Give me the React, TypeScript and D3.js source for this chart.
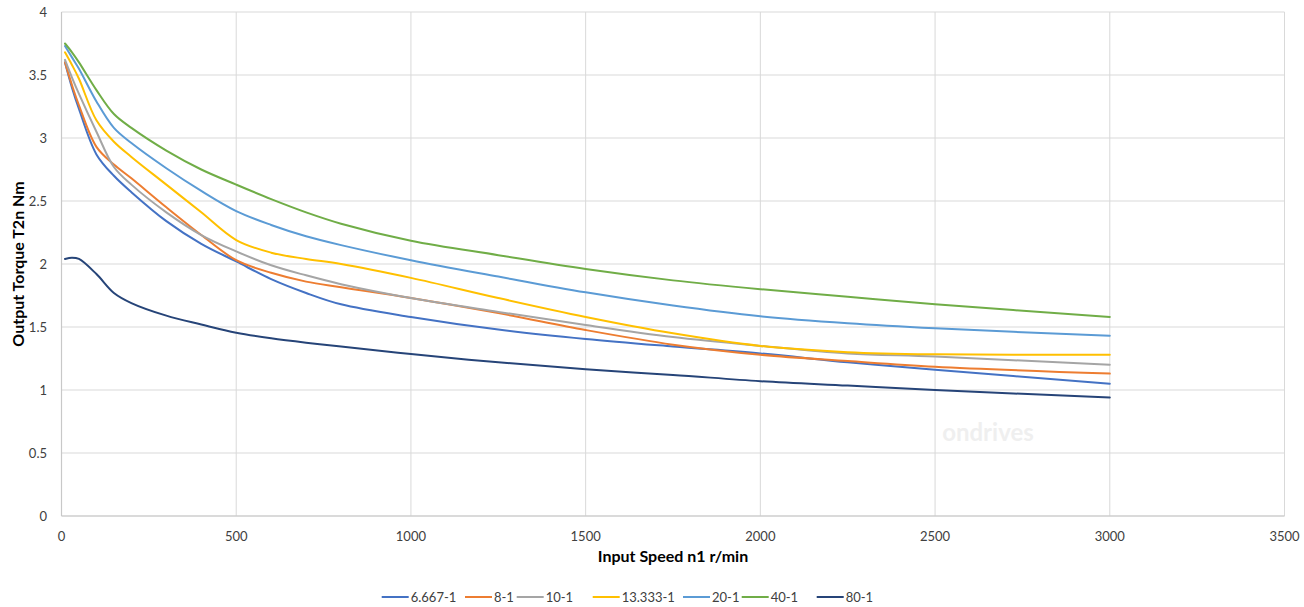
import React from "react";
import * as d3 from "d3";

// ---- data ----
const speeds = [10, 30, 50, 100, 150, 200, 300, 400, 500, 600, 700, 800, 1000, 1250, 1500, 1750, 2000, 2250, 2500, 3000];

const s6667 = [3.60, 3.40, 3.23, 2.87, 2.70, 2.57, 2.34, 2.16, 2.02, 1.88, 1.77, 1.68, 1.58, 1.48, 1.405, 1.345, 1.29, 1.22, 1.16, 1.05];
const s8 = [3.60, 3.42, 3.26, 2.93, 2.79, 2.68, 2.45, 2.23, 2.03, 1.93, 1.86, 1.815, 1.73, 1.61, 1.476, 1.36, 1.28, 1.23, 1.185, 1.13];
const s10 = [3.62, 3.48, 3.35, 3.05, 2.77, 2.63, 2.41, 2.23, 2.10, 1.99, 1.91, 1.84, 1.73, 1.62, 1.515, 1.42, 1.35, 1.29, 1.265, 1.20];
const s13333 = [3.68, 3.58, 3.47, 3.14, 2.97, 2.85, 2.63, 2.41, 2.19, 2.09, 2.04, 2.00, 1.89, 1.73, 1.58, 1.45, 1.35, 1.30, 1.283, 1.28];
const s20 = [3.73, 3.64, 3.55, 3.29, 3.08, 2.96, 2.76, 2.58, 2.42, 2.31, 2.22, 2.15, 2.03, 1.90, 1.775, 1.67, 1.585, 1.53, 1.49, 1.43];
const s40 = [3.75, 3.68, 3.60, 3.38, 3.19, 3.08, 2.90, 2.75, 2.63, 2.515, 2.41, 2.32, 2.185, 2.07, 1.96, 1.87, 1.80, 1.74, 1.68, 1.58];
const s80 = [2.04, 2.05, 2.04, 1.92, 1.77, 1.69, 1.59, 1.52, 1.455, 1.41, 1.375, 1.345, 1.285, 1.22, 1.164, 1.12, 1.07, 1.035, 1.00, 0.94];

const seriesNames = ["6.667-1", "8-1", "10-1", "13.333-1", "20-1", "40-1", "80-1"];
const seriesValues = [s6667, s8, s10, s13333, s20, s40, s80];
const seriesColors = ["#4472C4", "#ED7D31", "#A5A5A5", "#FFC000", "#5B9BD5", "#70AD47", "#264478"];

const xTicks = [0, 500, 1000, 1500, 2000, 2500, 3000, 3500];
const yTicks = [0, 0.5, 1, 1.5, 2, 2.5, 3, 3.5, 4];

const xTitle = "Input Speed n1 r/min";
const yTitle = "Output Torque T2n Nm";
const watermark = "ondrives";

// ---- layout ----
const W = 1304;
const H = 607;
const plot = { left: 61.5, right: 1284.5, top: 12, bottom: 516 };
const legendStarts = [381.7, 465, 516.7, 592.7, 683, 741.7, 816.7];
const FONT = "Lato, 'Open Sans', sans-serif";

export default function App() {
  const x = d3.scaleLinear().domain([0, 3500]).range([plot.left, plot.right]);
  const y = d3.scaleLinear().domain([0, 4]).range([plot.bottom, plot.top]);

  const line = d3
    .line<[number, number]>()
    .x((d) => x(d[0]))
    .y((d) => y(d[1]))
    .curve(d3.curveCatmullRom.alpha(0.5));

  return (
    <svg
      width={W}
      height={H}
      style={{ position: "fixed", left: 0, top: 0, display: "block", background: "#fff" }}
      fontFamily={FONT}
    >
      <rect x={0} y={0} width={W} height={H} fill="#fff" />
      {/* gridlines */}
      {yTicks.map((t) => (
        <line key={"gy" + t} x1={plot.left} x2={plot.right} y1={y(t)} y2={y(t)} stroke="#d9d9d9" strokeWidth={1} />
      ))}
      {xTicks.map((t) => (
        <line key={"gx" + t} x1={x(t)} x2={x(t)} y1={plot.top} y2={plot.bottom} stroke="#d9d9d9" strokeWidth={1} />
      ))}
      {/* axes */}
      <line x1={plot.left} x2={plot.left} y1={plot.top} y2={plot.bottom} stroke="#c8c8c8" strokeWidth={1.2} />
      <line x1={plot.left} x2={plot.right} y1={plot.bottom} y2={plot.bottom} stroke="#c8c8c8" strokeWidth={1.2} />

      {/* watermark */}
      <text x={988} y={441} textAnchor="middle" fontSize={24} fontWeight={700} fill="#efefef">
        {watermark}
      </text>

      {/* tick labels */}
      {yTicks.map((t) => (
        <text key={"ty" + t} x={47} y={y(t)} dy="0.35em" textAnchor="end" fontSize={13} fill="#404040">
          {String(t)}
        </text>
      ))}
      {xTicks.map((t) => (
        <text key={"tx" + t} x={x(t)} y={536} dy="0.35em" textAnchor="middle" fontSize={13} fill="#404040">
          {String(t)}
        </text>
      ))}

      {/* axis titles */}
      <text x={x(1750)} y={556} dy="0.35em" textAnchor="middle" fontSize={16} fontWeight={700} fill="#000">
        {xTitle}
      </text>
      <text
        transform={`translate(18,${(plot.top + plot.bottom) / 2}) rotate(-90)`}
        dy="0.35em"
        textAnchor="middle"
        fontSize={16}
        fontWeight={700}
        fill="#000"
      >
        {yTitle}
      </text>

      {/* series */}
      {seriesValues.map((vals, i) => (
        <path
          key={seriesNames[i]}
          d={line(speeds.map((s, j) => [s, vals[j]] as [number, number])) || ""}
          fill="none"
          stroke={seriesColors[i]}
          strokeWidth={2}
          strokeLinejoin="round"
          strokeLinecap="round"
        />
      ))}

      {/* legend */}
      {seriesNames.map((name, i) => (
        <g key={"lg" + name} transform={`translate(${legendStarts[i]},597)`}>
          <line x1={0} x2={27} y1={0} y2={0} stroke={seriesColors[i]} strokeWidth={2} />
          <text x={29} y={0} dy="0.35em" fontSize={13} fill="#404040">
            {name}
          </text>
        </g>
      ))}
    </svg>
  );
}
